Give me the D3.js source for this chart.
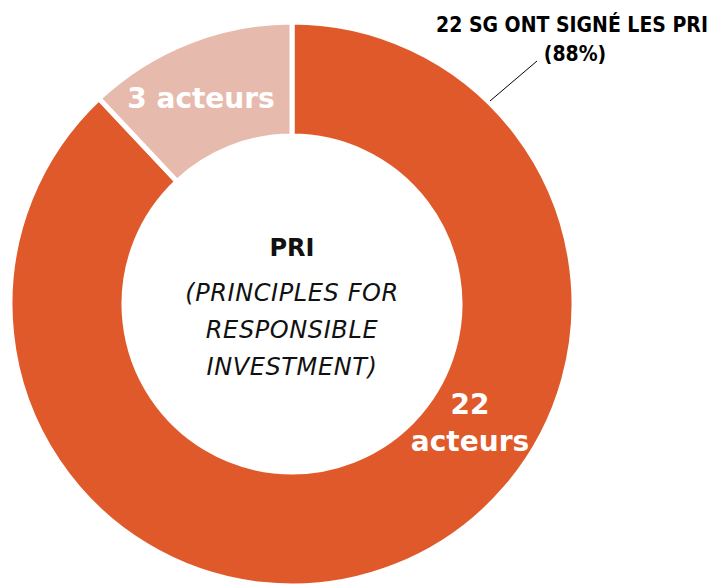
<!DOCTYPE html>
<html lang="fr">
<head>
<meta charset="UTF-8">
<title>PRI</title>
<script src="https://d3js.org/d3.v7.min.js"></script>
<style>
  body { margin: 0; background: #fff; }
</style>
</head>
<body>
<script>
// data
const labels = ["22 acteurs", "3 acteurs"];
const values = [22, 3];
const colors = ["#E0592B", "#E6BBAE"];
const centerTitle = "PRI";
const centerLines = ["(PRINCIPLES FOR", "RESPONSIBLE", "INVESTMENT)"];
const annotLines = ["22 SG ONT SIGNÉ LES PRI", "(88%)"];

const w = 718, h = 585;
const cx = 292, cy = 304;
const rOuter = 282, rInner = 168;

const svg = d3.select("body").append("svg").attr("width", w).attr("height", h);
const g = svg.append("g").attr("transform", `translate(${cx},${cy})`);

const pie = d3.pie().sort(null).value(d => d)
    .startAngle(0).endAngle(2 * Math.PI);
const arcs = pie(values);
const arc = d3.arc().innerRadius(rInner).outerRadius(rOuter);

g.selectAll("path").data(arcs).enter().append("path")
    .attr("d", arc)
    .attr("fill", (d, i) => colors[i])
    .attr("stroke", "#fff")
    .attr("stroke-width", 5)
    .attr("stroke-linejoin", "miter");

const font = "'DejaVu Sans', sans-serif";

// label on big slice
g.append("text")
    .attr("x", 178).attr("y", 110)
    .attr("text-anchor", "middle")
    .attr("fill", "#fff").attr("font-family", font).attr("font-weight", "bold").attr("font-size", 28)
    .selectAll("tspan").data(["22", "acteurs"]).enter().append("tspan")
    .attr("x", 178).attr("dy", (d, i) => i === 0 ? 0 : 37)
    .text(d => d);

// label on small slice
g.append("text")
    .attr("x", -91).attr("y", -196)
    .attr("text-anchor", "middle")
    .attr("fill", "#fff").attr("font-family", font).attr("font-weight", "bold").attr("font-size", 28)
    .text(labels[1]);

// centre text
g.append("text")
    .attr("x", 0).attr("y", -48)
    .attr("text-anchor", "middle").attr("font-family", font).attr("font-weight", "bold")
    .attr("font-size", 24).attr("fill", "#111")
    .text(centerTitle);

g.append("text")
    .attr("text-anchor", "middle").attr("font-family", font).attr("font-style", "italic")
    .attr("font-size", 24).attr("fill", "#111").attr("letter-spacing", 0.6)
    .selectAll("tspan").data(centerLines).enter().append("tspan")
    .attr("x", 0).attr("y", (d, i) => -3 + i * 37)
    .text(d => d);

// annotation
svg.append("text")
    .attr("text-anchor", "middle").attr("font-family", "'DejaVu Sans Condensed', 'DejaVu Sans', sans-serif")
    .attr("font-weight", "bold").attr("font-size", 21).attr("fill", "#000")
    .selectAll("tspan").data(annotLines).enter().append("tspan")
    .attr("x", (d, i) => i === 0 ? 572 : 575).attr("y", (d, i) => 32 + i * 29)
    .text(d => d);

svg.append("line")
    .attr("x1", 537).attr("y1", 61).attr("x2", 490).attr("y2", 101)
    .attr("stroke", "#000").attr("stroke-width", 1);
</script>
</body>
</html>
